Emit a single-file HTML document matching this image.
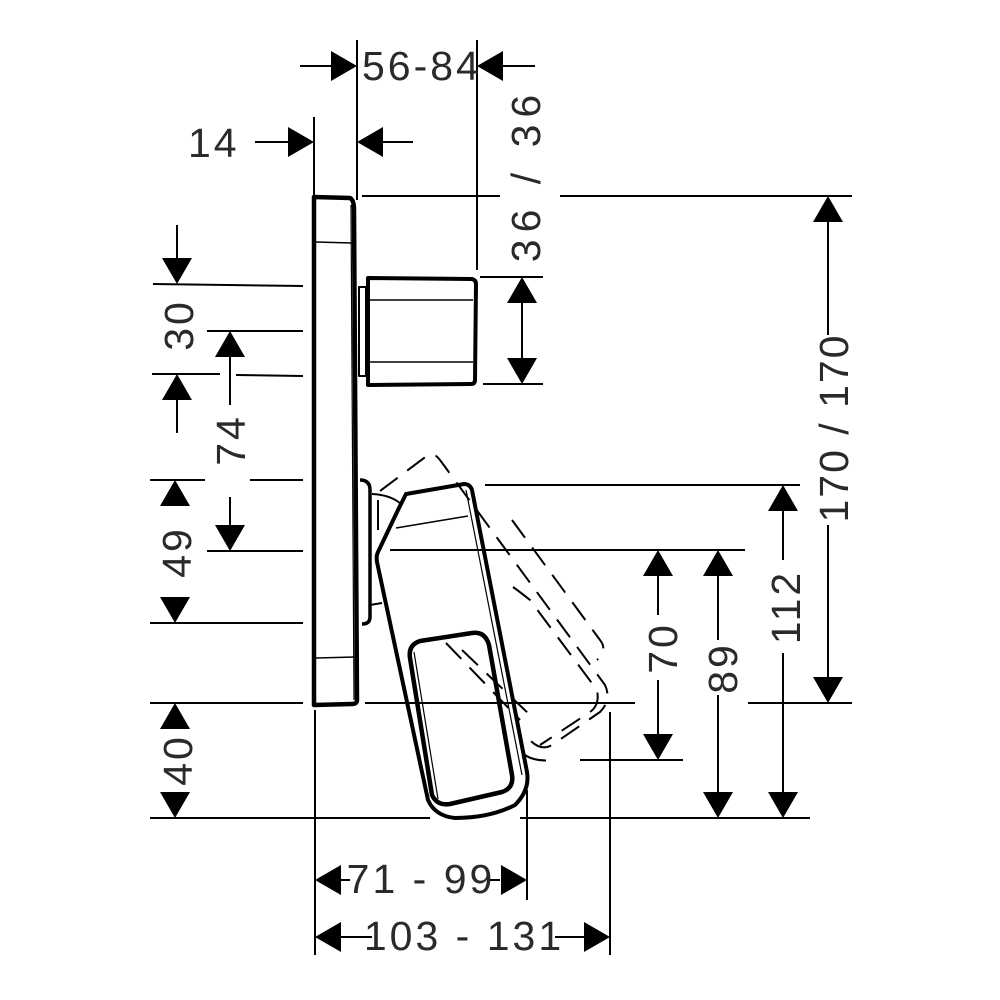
<!DOCTYPE html>
<html><head><meta charset="utf-8"><style>
html,body{margin:0;padding:0;background:#fff}
svg{display:block}
text{font-family:"Liberation Sans",sans-serif;font-size:41px;fill:#2a2a2a;letter-spacing:3px}
</style></head><body>
<svg width="1000" height="1000" viewBox="0 0 1000 1000" xmlns="http://www.w3.org/2000/svg">
<g stroke="#000" stroke-width="2" fill="none">
<line x1="357" y1="40" x2="357" y2="200"/>
<line x1="477" y1="40" x2="477" y2="270"/>
<line x1="314" y1="117" x2="314" y2="196"/>
<line x1="300" y1="66" x2="335" y2="66"/>
<line x1="500" y1="66" x2="535" y2="66"/>
<line x1="255" y1="142" x2="290" y2="142"/>
<line x1="380" y1="142" x2="413" y2="142"/>
<line x1="362" y1="196" x2="500" y2="196"/>
<line x1="560" y1="196" x2="852" y2="196"/>
<line x1="480" y1="277" x2="543" y2="277"/>
<line x1="483" y1="384" x2="543" y2="384"/>
<line x1="522" y1="300" x2="522" y2="362"/>
<line x1="153" y1="284" x2="303" y2="286"/>
<line x1="207" y1="331" x2="303" y2="331"/>
<line x1="152" y1="374" x2="220" y2="374"/>
<line x1="236" y1="375" x2="303" y2="376"/>
<line x1="150" y1="480" x2="205" y2="480"/>
<line x1="250" y1="480" x2="303" y2="480"/>
<line x1="207" y1="551" x2="303" y2="551"/>
<line x1="150" y1="623" x2="303" y2="623"/>
<line x1="150" y1="703" x2="303" y2="703"/>
<line x1="150" y1="818" x2="430" y2="818"/>
<line x1="520" y1="818" x2="810" y2="818"/>
<line x1="365" y1="703" x2="635" y2="703"/>
<line x1="748" y1="703" x2="852" y2="703"/>
<line x1="485" y1="485" x2="800" y2="485"/>
<line x1="390" y1="550" x2="745" y2="550"/>
<line x1="580" y1="760" x2="683" y2="760"/>
<line x1="177" y1="225" x2="177" y2="260"/>
<line x1="177" y1="398" x2="177" y2="433"/>
<line x1="230" y1="355" x2="230" y2="405"/>
<line x1="230" y1="497" x2="230" y2="527"/>
<line x1="828" y1="220" x2="828" y2="335"/>
<line x1="828" y1="525" x2="828" y2="680"/>
<line x1="783" y1="508" x2="783" y2="560"/>
<line x1="783" y1="653" x2="783" y2="795"/>
<line x1="718" y1="573" x2="718" y2="640"/>
<line x1="718" y1="695" x2="718" y2="795"/>
<line x1="658" y1="573" x2="658" y2="615"/>
<line x1="658" y1="680" x2="658" y2="737"/>
<line x1="315" y1="710" x2="315" y2="955"/>
<line x1="527" y1="790" x2="527" y2="900"/>
<line x1="610" y1="712" x2="610" y2="955"/>
<line x1="340" y1="880" x2="350" y2="880"/>
<line x1="488" y1="880" x2="500" y2="880"/>
<line x1="340" y1="937" x2="372" y2="937"/>
<line x1="555" y1="937" x2="585" y2="937"/>
</g>
<g fill="#000">
<polygon points="357,66 331,51 331,81"/>
<polygon points="477,66 503,51 503,81"/>
<polygon points="314,142 288,127 288,157"/>
<polygon points="357,142 383,127 383,157"/>
<polygon points="522,277 507,303 537,303"/>
<polygon points="522,384 507,358 537,358"/>
<polygon points="177,284 162,258 192,258"/>
<polygon points="177,374 162,400 192,400"/>
<polygon points="230,331 215,357 245,357"/>
<polygon points="230,551 215,525 245,525"/>
<polygon points="175,480 160,506 190,506"/>
<polygon points="175,623 160,597 190,597"/>
<polygon points="175,703 160,729 190,729"/>
<polygon points="175,818 160,792 190,792"/>
<polygon points="828,196 813,222 843,222"/>
<polygon points="828,703 813,677 843,677"/>
<polygon points="783,485 768,511 798,511"/>
<polygon points="783,818 768,792 798,792"/>
<polygon points="718,550 703,576 733,576"/>
<polygon points="718,818 703,792 733,792"/>
<polygon points="658,550 643,576 673,576"/>
<polygon points="658,760 643,734 673,734"/>
<polygon points="315,880 341,865 341,895"/>
<polygon points="527,880 501,865 501,895"/>
<polygon points="315,937 341,922 341,952"/>
<polygon points="610,937 584,922 584,952"/>
</g>
<g stroke="#000" fill="none" stroke-linejoin="round">
<path d="M314,197 L350,198 Q354,200 354,210 L357,700 Q357,704 352,704 L314,705 Z" stroke-width="4.5"/>
<line x1="316" y1="242" x2="352" y2="243" stroke-width="1.5"/>
<line x1="316" y1="658" x2="355" y2="657" stroke-width="1.5"/>
<line x1="351" y1="205" x2="354" y2="700" stroke-width="1.2"/>
<rect x="359" y="287" width="7" height="89" stroke-width="2"/>
<path d="M368,278 L472,279 Q476,280 476,284 L475,380 Q475,384 471,384 L368,385 Z" stroke-width="4"/>
<line x1="370" y1="300" x2="473" y2="300" stroke-width="1.5"/>
<line x1="370" y1="362" x2="473" y2="362" stroke-width="1.5"/>
<path d="M360,480 Q370,480 370,490 L370,617 Q370,624 362,624" stroke-width="3.5"/>
<path d="M372,494 Q392,495 402,505" stroke-width="2"/>
<line x1="378" y1="500" x2="378" y2="530" stroke-width="2"/>
<line x1="370" y1="605" x2="382" y2="603" stroke-width="2"/>
<g stroke-width="2" stroke-dasharray="22,12">
<path d="M380,491 L428,455 Q434,452 440,460 L605,685 Q612,700 600,712 L552,745 Q540,752 528,738"/>
<path d="M512,520 L600,640 Q608,650 597,660"/>
<path d="M513,587 Q520,592 530,600 L597,690 Q600,705 590,712 L540,745"/>
<path d="M446,643 L520,720"/>
<path d="M462,650 L530,715"/>
<path d="M525,755 Q535,762 555,760"/>
</g>
<path d="M406,494 L464,484 Q470,484 472,490 L527,772 Q530,790 515,805 Q490,818 455,818 Q435,816 428,800 L377,562 Q376,556 378,552 L398,510 Z" stroke-width="4"/>
<line x1="396" y1="528" x2="468" y2="516" stroke-width="1.5"/>
<line x1="466" y1="490" x2="522" y2="775" stroke-width="1.2"/>
<path d="M420,641 Q408,645 410,658 L432,795 Q437,806 450,804 L502,792 Q514,788 512,775 L489,645 Q485,631 472,633 Z" stroke-width="4.5"/>
<path d="M414,652 L438,799" stroke-width="1.2"/>
</g>
<text x="362" y="80">56-84</text>
<text x="188" y="157">14</text>
<text x="421" y="893" text-anchor="middle">71 - 99</text>
<text x="464" y="950" text-anchor="middle">103 - 131</text>
<text transform="translate(193,325) rotate(-90)" text-anchor="middle">30</text>
<text transform="translate(245,440) rotate(-90)" text-anchor="middle">74</text>
<text transform="translate(191,552) rotate(-90)" text-anchor="middle">49</text>
<text transform="translate(192,760) rotate(-90)" text-anchor="middle">40</text>
<text transform="translate(540,175) rotate(-90)" text-anchor="middle" style="letter-spacing:7px">36 / 36</text>
<text transform="translate(848,428) rotate(-90)" text-anchor="middle" style="letter-spacing:2px">170 / 170</text>
<text transform="translate(800,607) rotate(-90)" text-anchor="middle">112</text>
<text transform="translate(737,668) rotate(-90)" text-anchor="middle">89</text>
<text transform="translate(677,648) rotate(-90)" text-anchor="middle">70</text>
</svg>
</body></html>
